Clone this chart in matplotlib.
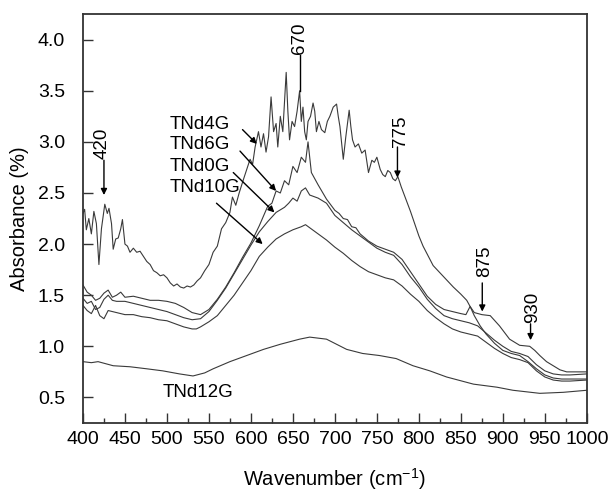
import matplotlib
matplotlib.use("Agg")
import matplotlib.pyplot as plt
from matplotlib.ticker import MultipleLocator, FormatStrFormatter

plt.rcParams['font.family'] = ['Liberation Sans', 'DejaVu Sans']
plt.rcParams['mathtext.fontset'] = 'custom'
plt.rcParams['mathtext.rm'] = 'Liberation Sans'

# TNd4G (noisy top curve)
x_4g = [400, 402, 404, 407, 410, 413, 416, 419, 422, 426, 429, 431, 434, 436, 439,
        442, 445, 447, 450, 453, 456, 460, 464, 468, 472, 476, 480, 484, 488, 492,
        496, 500, 504, 508, 512, 516, 520, 524, 528, 532, 536, 540, 545, 550, 555,
        560, 565, 570, 575, 578, 582, 586, 591, 595, 599, 602, 605, 609, 612, 615,
        618, 621, 624, 627, 630, 632, 635, 638, 642, 644, 646, 649, 652, 655, 658,
        660, 662, 664, 666, 668, 671, 674, 676, 678, 681, 684, 688, 691, 694, 698,
        702, 704, 706, 710, 713, 717, 719, 721, 724, 728, 732, 736, 740, 744, 747,
        750, 754, 757, 760, 763, 766, 769, 772, 775, 779, 785, 790, 795, 800, 805,
        810, 817, 825, 834, 841, 850, 857, 861, 866, 875, 885, 896, 908, 920, 932,
        938, 944, 952, 960, 968, 976, 988, 1000]
y_4g = [2.30, 2.34, 2.14, 2.25, 2.10, 2.32, 2.20, 1.80, 2.15, 2.39, 2.30, 2.35, 2.20, 1.95, 2.05,
        2.06, 2.15, 2.24, 2.00, 1.98, 1.92, 1.96, 1.92, 1.93, 1.88, 1.83, 1.80, 1.74, 1.72, 1.69,
        1.70, 1.67, 1.62, 1.59, 1.61, 1.58, 1.57, 1.59, 1.58, 1.60, 1.64, 1.67, 1.74, 1.80, 1.92,
        1.98, 2.15, 2.21, 2.31, 2.46, 2.38, 2.50, 2.63, 2.73, 2.83, 2.78, 2.95, 3.10, 2.95, 3.08,
        2.90, 3.05, 3.44, 3.10, 3.18, 2.95, 3.25, 3.10, 3.68, 3.30, 3.02, 3.20, 3.15, 3.30, 3.50,
        3.20, 3.34, 3.10, 3.02, 3.20, 3.25, 3.38, 3.30, 3.10, 3.20, 3.12, 3.09, 3.20, 3.25, 3.34,
        3.37, 3.25, 3.15, 2.83, 3.05, 3.31, 3.15, 3.02, 2.95, 2.98, 2.89, 2.92, 2.70, 2.82, 2.80,
        2.85, 2.73, 2.68, 2.66, 2.72, 2.70, 2.64, 2.62, 2.66, 2.56, 2.43, 2.32, 2.20, 2.08, 1.98,
        1.90, 1.79, 1.72, 1.64, 1.58, 1.51, 1.45, 1.39, 1.33, 1.31, 1.30, 1.20, 1.07, 1.01, 1.00,
        0.96, 0.91, 0.85, 0.81, 0.77, 0.75, 0.75, 0.75]

# TNd6G
x_6g = [400, 405, 410, 415, 420, 425, 430, 435, 440, 445, 450, 460, 470, 480, 490,
        500, 510, 520, 530, 540, 550, 560, 570, 580, 590, 600, 610, 620, 625, 630,
        635, 640, 645, 650, 655, 660, 665, 668, 672, 680, 690, 700, 705, 710, 715,
        720, 725, 730, 740, 750, 760, 770, 780, 790, 800, 810, 820, 830, 840, 850,
        856, 861, 866, 873, 880, 890, 900, 910, 920, 930, 940, 950, 960, 970, 980,
        990, 1000]
y_6g = [1.60, 1.53, 1.50, 1.45, 1.47, 1.52, 1.55, 1.48, 1.50, 1.53, 1.48, 1.49, 1.47, 1.45, 1.45,
        1.44, 1.42, 1.38, 1.33, 1.31, 1.36, 1.46, 1.58, 1.72, 1.87, 2.01, 2.18, 2.37, 2.40, 2.52,
        2.50, 2.62, 2.58, 2.76, 2.70, 2.85, 2.80, 3.00, 2.70, 2.58, 2.44, 2.33, 2.30, 2.25, 2.24,
        2.17, 2.16, 2.10, 2.03, 1.98, 1.95, 1.92, 1.85, 1.73, 1.61, 1.49, 1.41, 1.36, 1.34, 1.32,
        1.31, 1.39, 1.30, 1.20, 1.12, 1.03, 0.96, 0.93, 0.91, 0.85, 0.78, 0.72, 0.69, 0.68, 0.68,
        0.68, 0.68]

# TNd0G
x_0g = [400, 405, 410, 415, 420, 425, 430, 435, 440, 450, 460, 470, 480, 490, 500,
        510, 520, 530, 540, 550, 560, 570, 580, 590, 600, 610, 620, 630, 640, 645,
        650, 655, 660, 665, 670, 680, 690, 700, 710, 720, 730, 740, 750, 760, 770,
        780, 790, 800, 810, 820, 830, 840, 850, 860, 870, 880, 890, 900, 910, 920,
        930, 940, 950, 960, 970, 980, 1000]
y_0g = [1.47, 1.42, 1.44, 1.36, 1.38, 1.46, 1.50, 1.45, 1.44, 1.44, 1.42, 1.40, 1.38, 1.36, 1.34,
        1.31, 1.28, 1.26, 1.27, 1.34, 1.45, 1.57, 1.71, 1.85, 1.99, 2.12, 2.22, 2.31, 2.36, 2.40,
        2.45, 2.42, 2.52, 2.55, 2.48, 2.45, 2.40, 2.28, 2.21, 2.14, 2.08, 2.02, 1.96, 1.92, 1.89,
        1.80, 1.68, 1.58, 1.46, 1.37, 1.30, 1.27, 1.25, 1.23, 1.20, 1.13, 1.06, 1.00, 0.95, 0.93,
        0.90, 0.82, 0.76, 0.73, 0.72, 0.72, 0.73]

# TNd10G
x_10g = [400, 405, 410, 415, 420, 425, 430, 440, 450, 460, 470, 480, 490, 500, 510,
         520, 530, 535, 540, 550, 560, 570, 580, 590, 600, 610, 620, 630, 640, 650,
         660, 665, 670, 680, 690, 700, 710, 720, 730, 740, 750, 760, 770, 780, 790,
         800, 810, 820, 830, 840, 850, 860, 870, 880, 890, 900, 910, 920, 930, 940,
         950, 960, 970, 980, 1000]
y_10g = [1.40, 1.35, 1.32, 1.40, 1.30, 1.27, 1.35, 1.33, 1.31, 1.31, 1.29, 1.28, 1.26, 1.25, 1.22,
         1.19, 1.17, 1.17, 1.19, 1.24, 1.30, 1.40, 1.50, 1.62, 1.74, 1.88, 1.97, 2.05, 2.10, 2.14,
         2.17, 2.19, 2.16, 2.10, 2.04, 1.97, 1.91, 1.84, 1.78, 1.73, 1.70, 1.67, 1.65, 1.59, 1.51,
         1.44, 1.35, 1.28, 1.22, 1.17, 1.14, 1.12, 1.10, 1.04, 0.98, 0.93, 0.89, 0.87, 0.84, 0.76,
         0.70, 0.67, 0.66, 0.66, 0.67]

# TNd12G
x_12g = [400, 410, 418, 436, 456, 476, 495, 515, 531, 545, 555, 575, 595, 615, 635,
         658, 670, 690, 714, 733, 753, 773, 793, 813, 833, 865, 893, 912, 944, 972, 1000]
y_12g = [0.85, 0.84, 0.85, 0.81, 0.80, 0.78, 0.76, 0.73, 0.71, 0.74, 0.78, 0.85, 0.91, 0.97, 1.02,
         1.07, 1.09, 1.07, 0.97, 0.93, 0.91, 0.88, 0.81, 0.76, 0.70, 0.63, 0.60, 0.57, 0.54, 0.55, 0.57]

series = [(x_4g, y_4g), (x_6g, y_6g), (x_0g, y_0g), (x_10g, y_10g), (x_12g, y_12g)]

# sample labels: text, text position, arrow tail, arrow tip
labels = ['TNd4G', 'TNd6G', 'TNd0G', 'TNd10G']
label_pos = [(503, 3.17), (503, 2.97), (503, 2.76), (503, 2.55)]
label_tail = [(590, 3.12), (587, 2.91), (579, 2.70), (559, 2.40)]
label_tip = [(607, 2.98), (630, 2.52), (628, 2.31), (614, 2.00)]

# band positions: text, text centre, arrow start, arrow end
bands = ['420', '775', '875', '930']
band_text = [(423, 2.99), (778, 3.10), (878.5, 1.83), (935, 1.38)]
band_from = [(425, 2.82), (774.5, 2.95), (875.5, 1.62), (933, 1.22)]
band_to = [(425, 2.48), (774.5, 2.65), (875.5, 1.34), (933, 1.06)]

fig = plt.figure(figsize=(6.1, 4.95), dpi=100)
ax = fig.add_axes([0.136, 0.1455, 0.826, 0.826])

for xs, ys in series:
    ax.plot(xs, ys, color='#3a3a3a', lw=0.8)

ax.set_xlim(400, 1000)
ax.set_ylim(0.25, 4.25)
ax.xaxis.set_major_locator(MultipleLocator(50))
ax.xaxis.set_minor_locator(MultipleLocator(25))
ax.yaxis.set_major_locator(MultipleLocator(0.5))
ax.yaxis.set_major_formatter(FormatStrFormatter('%.1f'))
ax.tick_params(which='both', direction='in', top=False, right=False,
               width=1.0, color='#333333', labelsize=14)
ax.tick_params(which='major', length=7)
ax.tick_params(axis='x', which='major', pad=6)
ax.tick_params(axis='y', which='major', pad=13)
ax.tick_params(which='minor', length=3.5)
for sp in ax.spines.values():
    sp.set_linewidth(1.3)
    sp.set_color('#333333')

ax.set_xlabel('Wavenumber (cm$^{-1}$)', fontsize=14.5, labelpad=13)
ax.set_ylabel('Absorbance (%)', fontsize=14.5, labelpad=6)

arrow = dict(arrowstyle='-|>', color='k', lw=1.0, mutation_scale=9, shrinkA=0, shrinkB=0)

for name, pos, tail, tip in zip(labels, label_pos, label_tail, label_tip):
    ax.text(pos[0], pos[1], name, fontsize=13.5, ha='left', va='center')
    ax.annotate('', xy=tip, xytext=tail, arrowprops=arrow)

ax.text(537, 0.55, 'TNd12G', fontsize=13.5, ha='center', va='center')

for name, pos, start, end in zip(bands, band_text, band_from, band_to):
    ax.text(pos[0], pos[1], name, fontsize=13.5, rotation=90, ha='center', va='center')
    ax.annotate('', xy=end, xytext=start, arrowprops=arrow)

# 670 peak marker: plain line to the spike
ax.text(658, 4.01, '670', fontsize=13.5, rotation=90, ha='center', va='center')
ax.plot([658, 658], [3.85, 3.50], color='k', lw=1.0)

fig.savefig('out.png', dpi=100)
